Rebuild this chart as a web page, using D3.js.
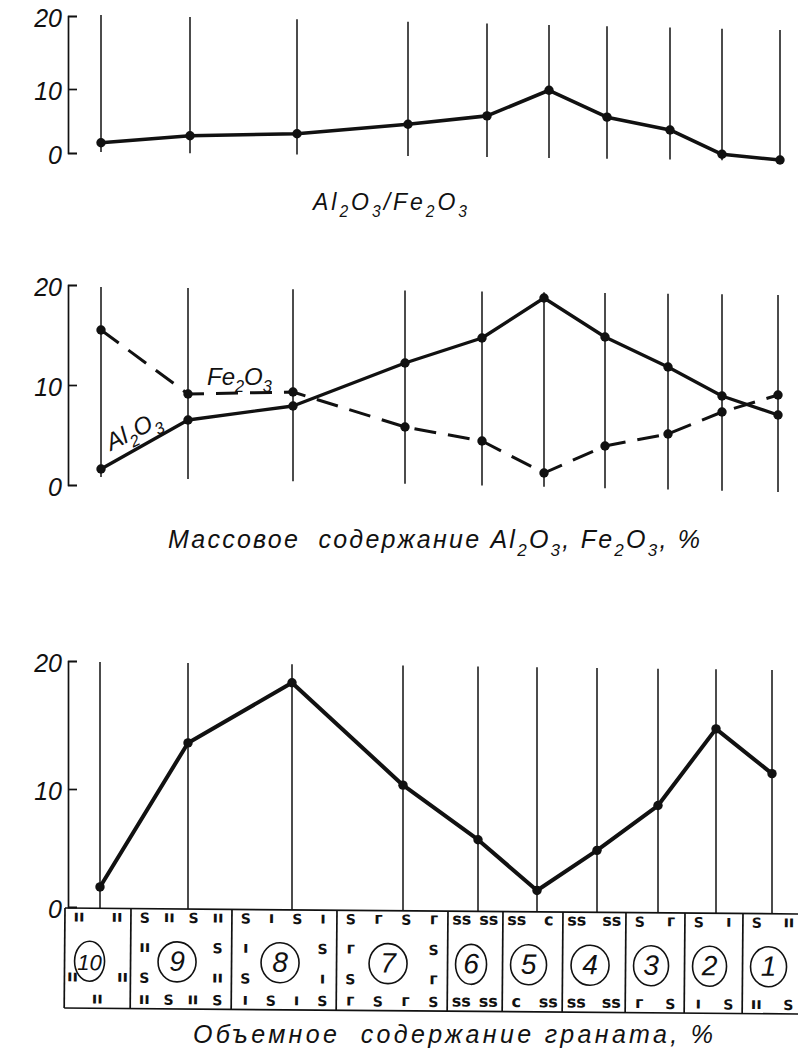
<!DOCTYPE html>
<html>
<head>
<meta charset="utf-8">
<script src="https://cdn.jsdelivr.net/npm/d3@7/dist/d3.min.js"></script>
<style>
  body { margin: 0; background: #fff; }
  svg { display: block; }
  text { font-family: "Liberation Sans", Arial, sans-serif; fill: #111; }
  .it { font-style: italic; }
  .pre { white-space: pre; }
  .sym { font-family: "DejaVu Sans", sans-serif; font-weight: bold; }
</style>
</head>
<body>
<svg id="chart" width="798" height="1059"></svg>
<script>
// ---- data ----
const samples = [10, 9, 8, 7, 6, 5, 4, 3, 2, 1];
const ratioAlFe = [1.6, 2.7, 3.0, 4.5, 5.8, 9.8, 5.6, 3.6, -0.2, -1.1];
const al2o3 = [1.6, 6.5, 7.9, 12.2, 14.7, 18.7, 14.8, 11.8, 8.9, 7.0];
const fe2o3 = [15.5, 9.1, 9.3, 5.8, 4.4, 1.2, 3.9, 5.1, 7.3, 9.0];
const garnet = [1.7, 13.6, 18.3, 10.3, 5.7, 1.4, 4.8, 8.6, 14.7, 11.2];
const yTicks = [0, 10, 20];

// symbols printed around the circled sample numbers in the strip
const symTop = [['ıı', 'ıı'], ['S', 'ıı', 'S', 'ıı'], ['S', 'ı', 'S', 'ı'], ['S', 'г', 'S', 'г'],
  ['ss', 'ss'], ['ss', 'c'], ['ss', 'ss'], ['S', 'г'], ['S', 'ı'], ['S', 'ıı']];
const symBottom = [['ıı'], ['ıı', 'S', 'ıı', 'S'], ['ı', 'S', 'ı', 'S'], ['г', 'S', 'г', 'S'],
  ['ss', 'ss'], ['c', 'ss'], ['ss', 'ss'], ['г', 'S'], ['ı', 'S'], ['ıı', 'S']];
const symLeft = [['', 'ıı'], ['ıı', 'S'], ['ı', 'S'], ['г', 'S'], [], [], [], [], [], []];
const symRight = [['', 'ıı'], ['S', 'ıı'], ['S', 'ı'], ['S', 'г'], [], [], [], [], [], []];

const title1 = 'Al_2O_3/Fe_2O_3';
const title2 = 'Массовое  содержание Al_2O_3, Fe_2O_3, %';
const title3 = 'Объемное  содержание граната, %';

// ---- layout (hand drawn original, so every panel drifts a little) ----
const axisX = 68;
const ink = '#111';
const boxTop = 908, boxH = 100, boxLeft = 65;
const boxEdges = [65, 131, 232, 337, 448, 503, 563, 626, 685, 743, 803];
const tilt = Math.atan2(6, 733);
const boxTopAt = x => boxTop + (x - boxLeft) * Math.tan(tilt);

const svg = d3.select('#chart');

const richText = (t, str, size) => {
  const parts = str.split(/(_\d)/).filter(p => p.length);
  let sub = false;
  parts.forEach(p => {
    const isSub = p[0] === '_';
    const ts = t.append('tspan').text(isSub ? p.slice(1) : p);
    if (isSub) ts.attr('font-size', size * 0.68).attr('dy', sub ? 0 : size * 0.3);
    else if (sub) ts.attr('dy', -size * 0.3);
    sub = isSub;
  });
  return t;
};

const fitWidth = (t, width) => {
  const n = t.text().length;
  const w = t.node().getComputedTextLength();
  t.attr('letter-spacing', (width - w) / (n - 1));
};

const panel = cfg => {
  const x = d3.scaleOrdinal().domain(samples).range(cfg.cols);
  const y = d3.scaleLinear().domain(cfg.yDomain).range(cfg.yRange);
  const g = svg.append('g');
  const x0 = cfg.cols[0], x1 = cfg.cols[cfg.cols.length - 1];
  const lerp = ([a, b]) => d => a + (b - a) * (x(d) - x0) / (x1 - x0);
  const top = lerp(cfg.lineTop);
  const bottom = cfg.lineBottom ? lerp(cfg.lineBottom) : d => boxTopAt(x(d));

  g.selectAll('.col').data(samples).enter().append('line')
    .attr('class', 'col')
    .attr('x1', d => x(d)).attr('x2', d => x(d))
    .attr('y1', top).attr('y2', bottom)
    .attr('stroke', ink).attr('stroke-width', 1.5);

  const axis = d3.axisLeft(y).tickValues(yTicks).tickSize(-9).tickPadding(6);
  const ag = g.append('g')
    .attr('transform', `translate(${axisX},0)`)
    .call(axis)
    .attr('font-size', null).attr('font-family', null);
  ag.selectAll('path, line').attr('stroke', ink).attr('stroke-width', 1.7);
  ag.selectAll('text')
    .attr('class', 'it')
    .attr('font-size', 25)
    .attr('fill', ink)
    .attr('dy', '0.4em');

  return { g, x, y };
};

const series = (p, values, opts) => {
  const line = d3.line()
    .x((d, i) => p.x(samples[i]))
    .y(d => p.y(d));
  p.g.append('path')
    .datum(values)
    .attr('d', line)
    .attr('fill', 'none')
    .attr('stroke', ink)
    .attr('stroke-width', opts.width)
    .attr('stroke-linejoin', 'round')
    .attr('stroke-dasharray', opts.dash || null);
  p.g.selectAll(null).data(values).enter().append('circle')
    .attr('cx', (d, i) => p.x(samples[i]))
    .attr('cy', d => p.y(d))
    .attr('r', 4.7)
    .attr('fill', ink);
};

// ---- panel 1: Al2O3/Fe2O3 ----
const p1 = panel({
  cols: [101, 190, 297, 408, 487, 549, 607, 670, 722, 780],
  yDomain: [0, 10, 20], yRange: [153, 89, 16],
  lineTop: [15, 30], lineBottom: [152, 161]
});
series(p1, ratioAlFe, { width: 3.6 });

const t1 = richText(svg.append('text').attr('class', 'it pre')
  .attr('x', 313).attr('y', 210).attr('font-size', 23), title1, 23);
fitWidth(t1, 154);

// ---- panel 2: Al2O3, Fe2O3 mass content ----
const p2 = panel({
  cols: [101, 188, 293, 405, 482, 544, 605, 668, 722, 778],
  yDomain: [0, 20], yRange: [485, 285],
  lineTop: [287, 295], lineBottom: [477, 492]
});
series(p2, fe2o3, { width: 3, dash: '22 12' });
series(p2, al2o3, { width: 3.3 });

richText(svg.append('text').attr('class', 'it')
  .attr('x', 207).attr('y', 385).attr('font-size', 24), 'Fe_2O_3', 24);
richText(svg.append('text').attr('class', 'it')
  .attr('transform', 'translate(111,451) rotate(-27)').attr('font-size', 24), 'Al_2O_3', 24);

const t2 = richText(svg.append('text').attr('class', 'it pre')
  .attr('x', 168).attr('y', 548).attr('font-size', 25), title2, 25);
fitWidth(t2, 532);

// ---- panel 3: garnet volume content ----
const p3 = panel({
  cols: [100, 188, 292, 403, 478, 537, 597, 658, 716, 772],
  yDomain: [0, 10, 20], yRange: [907, 789, 661],
  lineTop: [662, 670]
});
series(p3, garnet, { width: 4 });

// section strip with circled sample numbers
const strip = svg.append('g')
  .attr('transform', `rotate(${tilt * 180 / Math.PI} ${boxLeft} ${boxTop})`);
const xEdge = d3.scaleOrdinal().domain(samples).range(boxEdges);
const right = d => boxEdges[samples.indexOf(d) + 1];
const idx = d => samples.indexOf(d);

strip.append('g').selectAll('line')
  .data([boxTop, boxTop + boxH]).enter().append('line')
  .attr('x1', boxLeft).attr('x2', 820)
  .attr('y1', d => d).attr('y2', d => d)
  .attr('stroke', ink).attr('stroke-width', 1.7);
strip.append('g').selectAll('line')
  .data(samples).enter().append('line')
  .attr('x1', d => xEdge(d)).attr('x2', d => xEdge(d))
  .attr('y1', boxTop).attr('y2', boxTop + boxH)
  .attr('stroke', ink).attr('stroke-width', 1.7);

// boxes with a single pair of side marks keep them close to the walls
const tight = d => symLeft[idx(d)].length > 0 && symTop[idx(d)].length === 2;
const cells = strip.selectAll('.cell').data(samples).enter().append('g')
  .attr('class', 'cell');
const cx = d => (xEdge(d) + right(d)) / 2 - (tight(d) ? 8 : 4);
const rx = d => {
  const w = right(d) - xEdge(d);
  return Math.min(19, tight(d) ? (w - 36) / 2 : w / 2 - 12);
};

cells.append('ellipse')
  .attr('cx', cx)
  .attr('cy', boxTop + 53)
  .attr('rx', rx)
  .attr('ry', 20)
  .attr('fill', 'none')
  .attr('stroke', ink).attr('stroke-width', 1.6);
cells.append('text')
  .attr('class', 'it')
  .attr('x', cx)
  .attr('y', boxTop + 62)
  .attr('text-anchor', 'middle')
  .attr('font-size', d => d === 10 ? 22 : 28)
  .text(d => d);

const pad = 14;
const rowPos = (d, n, k) => {
  const a = xEdge(d) + pad, b = right(d) - pad;
  return n === 1 ? (a + b) / 2 : a + (b - a) * k / (n - 1);
};
const symbols = [];
samples.forEach((d, i) => {
  const side = tight(d) ? 8 : pad;
  symTop[i].forEach((s, k) => symbols.push({ s, x: rowPos(d, symTop[i].length, k), y: boxTop + 9 }));
  symBottom[i].forEach((s, k) => symbols.push({ s, x: rowPos(d, symBottom[i].length, k), y: boxTop + 91 }));
  symLeft[i].forEach((s, k) => symbols.push({ s, x: xEdge(d) + side, y: boxTop + 39 + 30 * k }));
  symRight[i].forEach((s, k) => symbols.push({ s, x: right(d) - side, y: boxTop + 39 + 30 * k }));
});
strip.append('g').selectAll('text')
  .data(symbols.filter(d => d.s)).enter().append('text')
  .attr('class', 'sym')
  .attr('x', d => d.x).attr('y', d => d.y)
  .attr('dy', d => d.s === 'S' ? '0.36em' : '0.27em')
  .attr('text-anchor', 'middle')
  .attr('font-size', d => d.s === 'S' ? 14 : 16)
  .text(d => d.s);

const t3 = svg.append('text').attr('class', 'it pre')
  .attr('x', 193).attr('y', 1043).attr('font-size', 25).text(title3);
fitWidth(t3, 520);
</script>
</body>
</html>
